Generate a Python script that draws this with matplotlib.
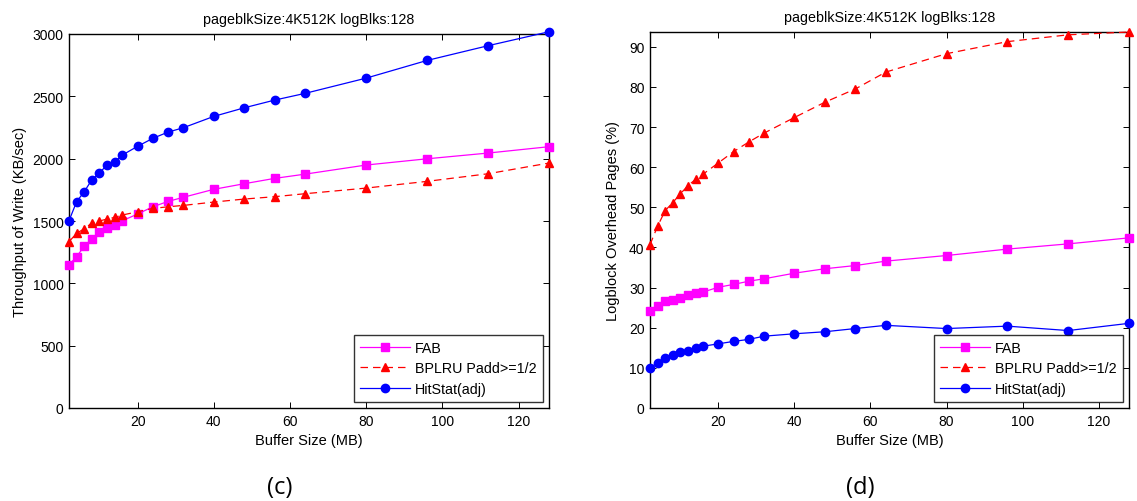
import matplotlib
matplotlib.use("Agg")
import matplotlib.pyplot as plt

plt.rcParams["font.family"] = ["Liberation Sans", "DejaVu Sans"]

# tamanos de buffer (MB)
buf_mb = [2, 4, 6, 8, 10, 12, 14, 16, 20, 24, 28, 32, 40, 48, 56, 64, 80, 96, 112, 128]

# (c) throughput de escritura (KB/sec)
thr_fab = [1149, 1213, 1299, 1353, 1409, 1443, 1468, 1502, 1556, 1614, 1657, 1690,
           1754, 1799, 1842, 1876, 1949, 1999, 2045, 2096]
thr_bplru = [1334, 1401, 1438, 1484, 1500, 1516, 1529, 1548, 1574, 1601, 1614, 1625,
             1652, 1676, 1695, 1719, 1764, 1818, 1879, 1965]
thr_hit = [1502, 1655, 1735, 1831, 1887, 1949, 1975, 2029, 2099, 2163, 2213, 2248,
           2339, 2408, 2470, 2524, 2646, 2788, 2906, 3018]

# (d) paginas de overhead del logblock (%)
ovh_fab = [24.2, 25.5, 26.6, 26.9, 27.5, 28.1, 28.7, 28.9, 30.1, 30.8, 31.6, 32.2,
           33.6, 34.7, 35.5, 36.6, 38.0, 39.6, 40.9, 42.4]
ovh_bplru = [40.7, 45.3, 49.2, 51.2, 53.4, 55.4, 57.0, 58.3, 61.1, 63.9, 66.3, 68.5,
             72.4, 76.2, 79.5, 83.7, 88.3, 91.3, 93.0, 93.7]
ovh_hit = [10.0, 11.3, 12.4, 13.2, 13.9, 14.3, 14.9, 15.4, 16.0, 16.6, 17.1, 17.9,
           18.5, 19.0, 19.8, 20.6, 19.8, 20.4, 19.3, 21.1]

TITULO = "pageblkSize:4K512K logBlks:128"
W, H = 1137, 502

fig = plt.figure(figsize=(W / 100, H / 100), dpi=100)
ax_c = fig.add_axes([69 / W, 1 - 409 / H, 480 / W, 374 / H])
ax_d = fig.add_axes([650 / W, 1 - 409 / H, 479 / W, 376 / H])


def dibujar(ax, fab, bplru, hit):
    ax.plot(buf_mb, fab, "-", color="#ff00ff", lw=0.9, marker="s", ms=5.5,
            label="FAB", clip_on=False, zorder=3)
    ax.plot(buf_mb, bplru, "--", color="#ff0000", lw=0.9, marker="^", ms=6,
            dashes=(6, 4), label="BPLRU Padd>=1/2", clip_on=False, zorder=3)
    ax.plot(buf_mb, hit, "-", color="#0000ff", lw=0.9, marker="o", ms=6,
            label="HitStat(adj)", clip_on=False, zorder=3)
    ax.set_xlim(2, 128)
    ax.set_xticks([20, 40, 60, 80, 100, 120])
    ax.set_xlabel("Buffer Size (MB)", fontsize=10.5, labelpad=4)
    ax.set_title(TITULO, fontsize=10.3, pad=8)
    ax.tick_params(direction="in", top=True, right=True, labelsize=10,
                   length=4, width=0.7, pad=4)
    for s in ax.spines.values():
        s.set_linewidth(1.0)
    leg = ax.legend(loc="lower right", fontsize=10.3, frameon=True, fancybox=False,
                    edgecolor="black", handlelength=3.5, borderaxespad=0.45,
                    labelspacing=0.45, handletextpad=0.35, borderpad=0.4)
    leg.get_frame().set_linewidth(1.0)


dibujar(ax_c, thr_fab, thr_bplru, thr_hit)
ax_c.set_ylim(0, 3000)
ax_c.set_yticks(range(0, 3001, 500))
ax_c.set_ylabel("Throughput of Write (KB/sec)", fontsize=10.5, labelpad=4)

dibujar(ax_d, ovh_fab, ovh_bplru, ovh_hit)
ax_d.set_ylim(0, max(ovh_bplru))
ax_d.set_yticks(range(0, 91, 10))
ax_d.set_ylabel("Logblock Overhead Pages (%)", fontsize=10.5, labelpad=6)

fig.text(280 / W, 1 - 488 / H, "(c)", fontsize=17, ha="center", va="center",
         family=["Open Sans", "DejaVu Sans"])
fig.text(860 / W, 1 - 488 / H, "(d)", fontsize=17, ha="center", va="center",
         family=["Open Sans", "DejaVu Sans"])

fig.savefig("out.png", dpi=100)
